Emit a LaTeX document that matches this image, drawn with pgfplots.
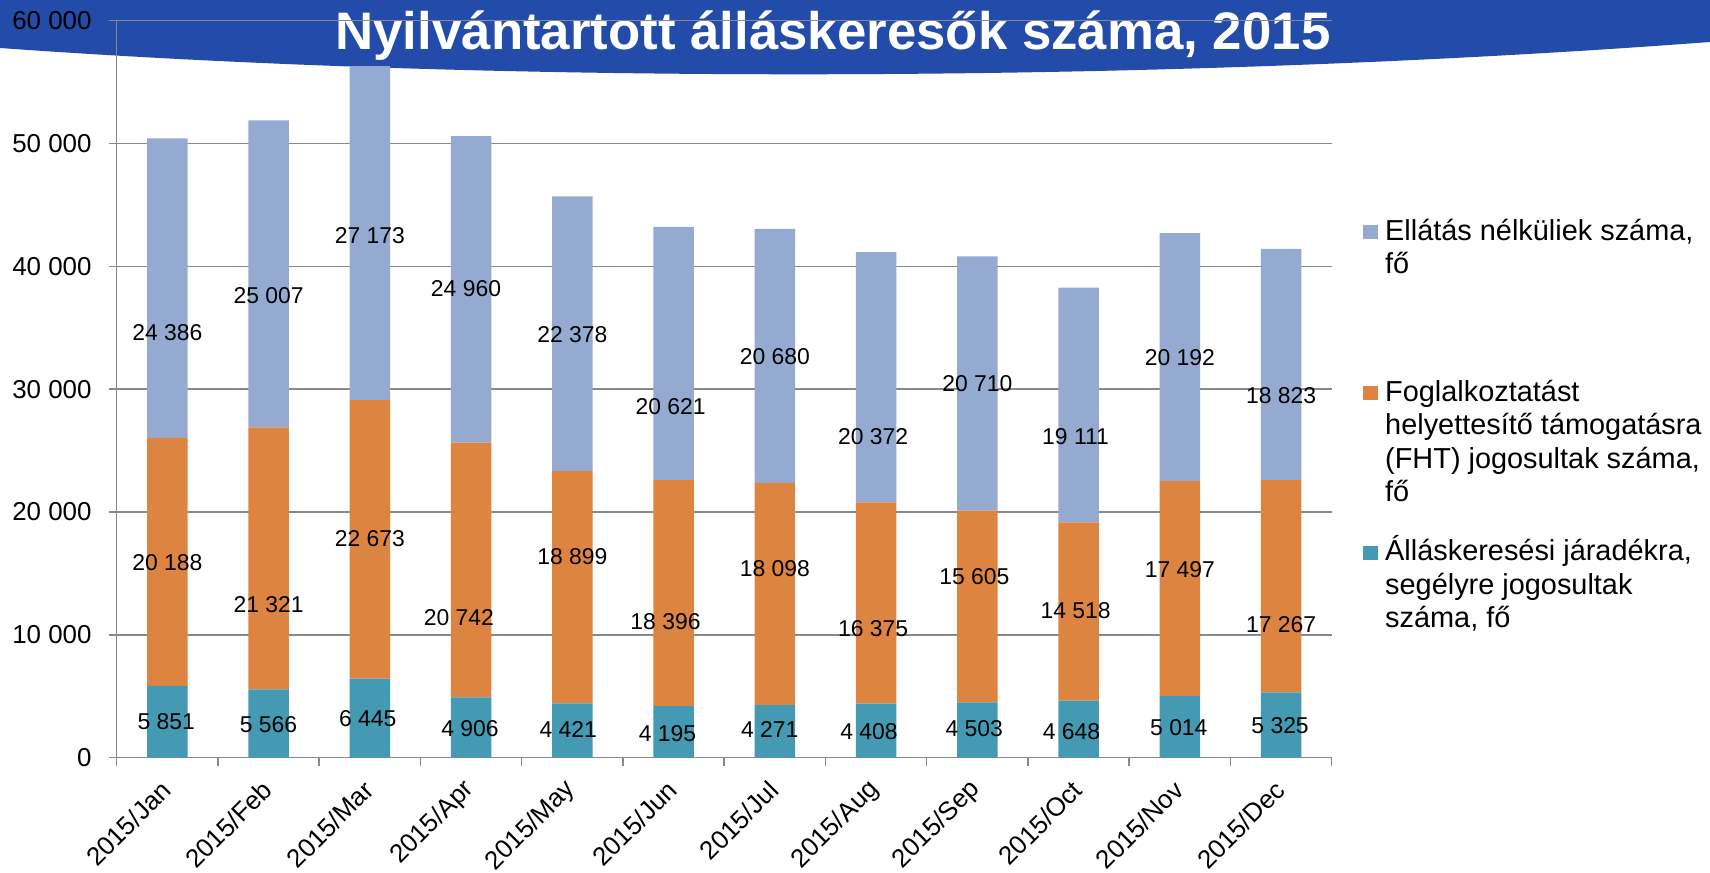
\documentclass[border=0pt]{standalone}
\usepackage{pgfplots}
\pgfplotsset{compat=1.18}
\usepackage{fontspec}
\setmainfont{Liberation Sans}
\definecolor{cblue}{RGB}{149,170,209}
\definecolor{corange}{RGB}{221,132,64}
\definecolor{cteal}{RGB}{67,154,178}
\definecolor{banner}{RGB}{35,75,170}
\definecolor{gridgray}{RGB}{137,137,137}
\newcommand\ticksz{\fontsize{26}{30}\selectfont}
\newcommand\labsz{\fontsize{23}{27}\selectfont}
\newcommand\legsz{\fontsize{29}{33}\selectfont}
\tikzset{lab/.style={font=\labsz, inner sep=0pt}, leg/.style={font=\legsz, inner sep=0pt, anchor=base west}}
\begin{document}
\begin{tikzpicture}[x=1bp,y=1bp]
\useasboundingbox (0,0) rectangle (1710,872);
\fill[banner] (0,872) -- (0,824) .. controls (500,788) and (1150,788) .. (1710,830) -- (1710,872) -- cycle;
\node[anchor=base, text=white, inner sep=0pt, font=\fontsize{53}{60}\selectfont\bfseries] at (833,822) {Nyilvántartott álláskeresők száma, 2015};
\begin{axis}[
  at={(116.7bp,114.3bp)}, anchor=south west,
  scale only axis, width=1215bp, height=737bp,
  ybar stacked, bar width=40.5bp,
  xmin=0, xmax=12, ymin=0, ymax=60000,
  xtick={0,1,...,12},
  x tick label as interval=true,
  xticklabels={2015/Jan,2015/Feb,2015/Mar,2015/Apr,2015/May,2015/Jun,2015/Jul,2015/Aug,2015/Sep,2015/Oct,2015/Nov,2015/Dec},
  ytick={0,10000,20000,30000,40000,50000,60000},
  yticklabels={0,10 000,20 000,30 000,40 000,50 000,60 000},
  ymajorgrids, grid style={gridgray, line width=1.5bp},
  axis x line*=bottom, axis y line*=left,
  axis line style={gridgray, line width=1.5bp},
  tick style={gridgray, line width=1.5bp},
  tick align=outside, major tick length=8bp,
  yticklabel style={font=\ticksz, anchor=east, inner sep=0pt, xshift=-17bp},
  xticklabel style={font=\ticksz, inner sep=0pt, yshift=-20bp, xshift=-1bp, rotate=45, anchor=east},
  clip=false,
]
\addplot[fill=cteal, draw=none] coordinates {(0.5,5851) (1.5,5566) (2.5,6445) (3.5,4906) (4.5,4421) (5.5,4195) (6.5,4271) (7.5,4408) (8.5,4503) (9.5,4648) (10.5,5014) (11.5,5325)};
\addplot[fill=corange, draw=none] coordinates {(0.5,20188) (1.5,21321) (2.5,22673) (3.5,20742) (4.5,18899) (5.5,18396) (6.5,18098) (7.5,16375) (8.5,15605) (9.5,14518) (10.5,17497) (11.5,17267)};
\addplot[fill=cblue, draw=none] coordinates {(0.5,24386) (1.5,25007) (2.5,27173) (3.5,24960) (4.5,22378) (5.5,20621) (6.5,20680) (7.5,20372) (8.5,20710) (9.5,19111) (10.5,20192) (11.5,18823)};
\coordinate (b1) at (axis cs:0.5,34575);
\coordinate (b2) at (axis cs:1.5,37587);
\coordinate (b3) at (axis cs:2.5,42472);
\coordinate (b4) at (axis cs:3.45,38157);
\coordinate (b5) at (axis cs:4.5,34412);
\coordinate (b6) at (axis cs:5.47,28551);
\coordinate (b7) at (axis cs:6.5,32621);
\coordinate (b8) at (axis cs:7.47,26108);
\coordinate (b9) at (axis cs:8.5,30423);
\coordinate (b10) at (axis cs:9.47,26108);
\coordinate (b11) at (axis cs:10.5,32540);
\coordinate (b12) at (axis cs:11.5,29446);
\coordinate (o1) at (axis cs:0.5,15851);
\coordinate (o2) at (axis cs:1.5,12431);
\coordinate (o3) at (axis cs:2.5,17804);
\coordinate (o4) at (axis cs:3.38,11373);
\coordinate (o5) at (axis cs:4.5,16339);
\coordinate (o6) at (axis cs:5.42,11047);
\coordinate (o7) at (axis cs:6.5,15362);
\coordinate (o8) at (axis cs:7.47,10477);
\coordinate (o9) at (axis cs:8.47,14711);
\coordinate (o10) at (axis cs:9.47,11943);
\coordinate (o11) at (axis cs:10.5,15281);
\coordinate (o12) at (axis cs:11.5,10803);
\coordinate (t1) at (axis cs:0.49,2931);
\coordinate (t2) at (axis cs:1.5,2662);
\coordinate (t3) at (axis cs:2.48,3150);
\coordinate (t4) at (axis cs:3.49,2336);
\coordinate (t5) at (axis cs:4.46,2255);
\coordinate (t6) at (axis cs:5.44,1929);
\coordinate (t7) at (axis cs:6.45,2255);
\coordinate (t8) at (axis cs:7.43,2092);
\coordinate (t9) at (axis cs:8.47,2336);
\coordinate (t10) at (axis cs:9.43,2092);
\coordinate (t11) at (axis cs:10.49,2442);
\coordinate (t12) at (axis cs:11.49,2581);
\end{axis}
\node[lab] at (b1) {24 386};
\node[lab] at (b2) {25 007};
\node[lab] at (b3) {27 173};
\node[lab] at (b4) {24 960};
\node[lab] at (b5) {22 378};
\node[lab] at (b6) {20 621};
\node[lab] at (b7) {20 680};
\node[lab] at (b8) {20 372};
\node[lab] at (b9) {20 710};
\node[lab] at (b10) {19 111};
\node[lab] at (b11) {20 192};
\node[lab] at (b12) {18 823};
\node[lab] at (o1) {20 188};
\node[lab] at (o2) {21 321};
\node[lab] at (o3) {22 673};
\node[lab] at (o4) {20 742};
\node[lab] at (o5) {18 899};
\node[lab] at (o6) {18 396};
\node[lab] at (o7) {18 098};
\node[lab] at (o8) {16 375};
\node[lab] at (o9) {15 605};
\node[lab] at (o10) {14 518};
\node[lab] at (o11) {17 497};
\node[lab] at (o12) {17 267};
\node[lab] at (t1) {5 851};
\node[lab] at (t2) {5 566};
\node[lab] at (t3) {6 445};
\node[lab] at (t4) {4 906};
\node[lab] at (t5) {4 421};
\node[lab] at (t6) {4 195};
\node[lab] at (t7) {4 271};
\node[lab] at (t8) {4 408};
\node[lab] at (t9) {4 503};
\node[lab] at (t10) {4 648};
\node[lab] at (t11) {5 014};
\node[lab] at (t12) {5 325};
\fill[cblue] (1363,632.7) rectangle (1378,647);
\fill[corange] (1363,472) rectangle (1378,486);
\fill[cteal] (1363,312) rectangle (1378,326);
\node[leg] at (1385,631.3) {Ellátás nélküliek száma,};
\node[leg] at (1385,598) {fő};
\node[leg] at (1385,470.3) {Foglalkoztatást};
\node[leg] at (1385,437) {helyettesítő támogatásra};
\node[leg] at (1385,403.7) {(FHT) jogosultak száma,};
\node[leg] at (1385,370.3) {fő};
\node[leg] at (1385,311) {Álláskeresési járadékra,};
\node[leg] at (1385,277.7) {segélyre jogosultak};
\node[leg] at (1385,244.3) {száma, fő};
\end{tikzpicture}
\end{document}
